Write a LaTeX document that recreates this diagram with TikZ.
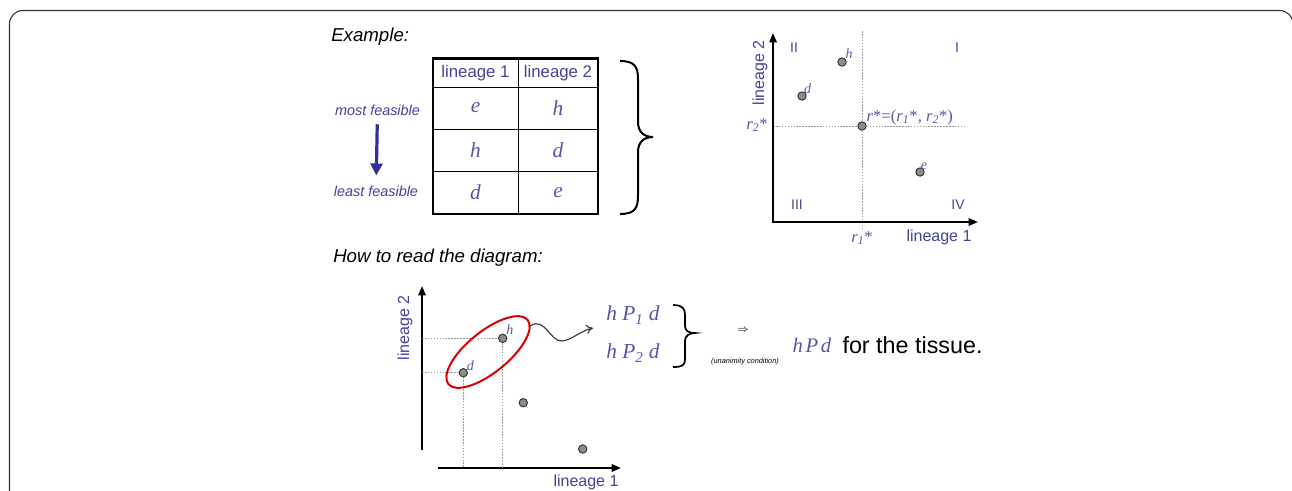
\documentclass[tikz,border=0pt]{standalone}
\usepackage{fontspec}
\setmainfont{Liberation Sans}
\newfontfamily\tms{Liberation Serif}
\usetikzlibrary{positioning,arrows.meta}

\definecolor{labblue}{RGB}{66,66,156}
\definecolor{varblue}{RGB}{84,84,172}
\definecolor{arrblue}{RGB}{48,48,150}

\begin{document}
\begin{tikzpicture}[x=0.75pt,y=-0.75pt,
  pt/.style={draw=black!80, fill=black!45, circle, inner sep=0pt, minimum size=6.3pt, line width=0.7pt},
  axes/.style={line width=1.5pt, line join=miter, {Triangle[length=7pt,width=5.5pt]}-{Triangle[length=7pt,width=5.5pt]}},
  guide/.style={black!40, line width=0.45pt, dash pattern=on 1.2pt off 1pt},
  lab/.style={text=labblue, font=\fontsize{12}{14}\selectfont, inner sep=1pt},
  numeral/.style={text=labblue, font=\fontsize{10.5}{12}\selectfont, inner sep=1pt},
  cell/.style={text=varblue, font=\fontsize{16}{17}\selectfont\tms\itshape, inner sep=1pt},
  vsm/.style={text=varblue, font=\fontsize{10.5}{12}\selectfont\tms\itshape, inner sep=1pt},
  vbig/.style={text=varblue, font=\fontsize{16}{18}\selectfont\tms\itshape, inner sep=1pt},
  head/.style={font=\fontsize{14}{16}\selectfont\itshape, anchor=west, inner sep=0pt},
  feas/.style={text=labblue, font=\fontsize{10.8}{12}\selectfont\itshape, inner sep=1pt}]

\useasboundingbox (0,0) rectangle (1292,490);
\clip (0,0) rectangle (1292,490);
\draw[black!80, line width=0.8pt, rounded corners=10] (9.5,520) -- (9.5,10.5) -- (1293,10.5) -- (1293,520);

% example table
\node[head] (ex) at (331,37) {Example:};

\draw[line width=0.6pt] (433,87) -- (598,87);
\draw[line width=0.6pt] (433,129) -- (598,129);
\draw[line width=0.6pt] (433,171.5) -- (598,171.5);
\draw[line width=0.6pt] (518,58.5) -- (518,214);
\draw[line width=1.6pt] (433,58.5) rectangle (598,214);

\node[lab, font=\fontsize{12.6}{14}\selectfont] (c11) at (475.5,72.7) {lineage 1};
\node[lab, font=\fontsize{12.6}{14}\selectfont] (c12) at (558,72.7) {lineage 2};
\node[cell] (c21) at (475.5,108) {e};
\node[cell] (c22) at (558,108) {h};
\node[cell] (c31) at (475.5,150) {h};
\node[cell] (c32) at (558,150) {d};
\node[cell] (c41) at (475.5,192.7) {d};
\node[cell] (c42) at (558,192.7) {e};

\node[feas] (most) at (377.5,110.7) {most feasible};
\node[feas] (least) at (376,191.7) {least feasible};
\draw[arrblue, line width=2.4pt, -{Triangle[length=9pt,width=9pt]}, shorten <=5pt, shorten >=7pt] (most) -- (least);

\draw[line width=1.5pt] (620,61) .. controls (636,61) and (638,68) .. (638,80) -- (638,122)
  .. controls (638,132) and (644,137) .. (653,137) .. controls (644,137) and (638,142) .. (638,152)
  -- (638,195) .. controls (638,207) and (636,214) .. (620,214);

% quadrant plot
\def\x{773}
\def\y{222}
\coordinate (o1) at (\x + 0, \y + 0);
\coordinate (ytip1) at (\x + 0, \y + -189);
\coordinate (xtip1) at (\x + 205, \y + 0);
\coordinate (vtop) at (\x + 89, \y + -191);
\coordinate (vbot) at (\x + 89, \y + 7);
\coordinate (hleft) at (\x + 0, \y + -96);
\coordinate (hright) at (\x + 192, \y + -96);

\draw[guide] (vtop) -- (vbot);
\draw[guide] (hleft) -- (hright);
\draw[axes] (ytip1) -- (o1) -- (xtip1);

\node[pt] (ph) at (\x + 69, \y + -160) {};
\node[pt] (pd) at (\x + 29, \y + -126) {};
\node[pt] (pr) at (\x + 89, \y + -96) {};
\node[pt] (pe) at (\x + 147, \y + -50) {};
\node[vsm, above right=-1pt and -1pt of ph] (lh) {h};
\node[vsm, above right=-2pt and -2pt of pd] (ld) {d};
\node[vsm, above right=-2pt and -3pt of pe] (le) {e};
\node[vsm, anchor=west, font=\fontsize{12.5}{14}\selectfont\tms] (lr) at (\x + 92, \y + -105)
  {\textit{r}*=(\textit{r}\textsubscript{\textit{1}}*, \textit{r}\textsubscript{\textit{2}}*)};
\node[vsm, font=\fontsize{12.5}{14}\selectfont\tms] (r2) at (\x + -16, \y + -97) {\textit{r}\textsubscript{\textit{2}}*};
\node[vsm, font=\fontsize{12.5}{14}\selectfont\tms] (r1) at (\x + 89, \y + 16) {\textit{r}\textsubscript{\textit{1}}*};

\node[numeral] (q2) at (\x + 21, \y + -174) {II};
\node[numeral] (q1) at (\x + 184, \y + -174) {I};
\node[numeral] (q3) at (\x + 24, \y + -17) {III};
\node[numeral] (q4) at (\x + 185, \y + -17) {IV};

\node[lab, rotate=90] (ly1) at (\x + -13, \y + -149) {lineage 2};
\node[lab] (lx1) at (\x + 166, \y + 15) {lineage 1};

% reading the diagram
\node[head] (how) at (333,258) {How to read the diagram:};

\def\x{422}
\def\y{468}
\coordinate (ybot2) at (\x + 0, \y + -18);
\coordinate (ytip2) at (\x + 0, \y + -182);
\coordinate (xbeg2) at (\x + 16, \y + 0);
\coordinate (xtip2) at (\x + 199, \y + 0);
\draw[line width=1.5pt, -{Triangle[length=7pt,width=5.5pt]}] (ybot2) -- (ytip2);
\draw[line width=1.5pt, -{Triangle[length=7pt,width=5.5pt]}] (xbeg2) -- (xtip2);

\node[pt] (qd) at (\x + 41.3, \y + -95.3) {};
\node[pt] (qh) at (\x + 80.7, \y + -129.7) {};
\node[pt] (qa) at (\x + 101.3, \y + -65.3) {};
\node[pt] (qb) at (\x + 160.7, \y + -19) {};

\coordinate (dy) at (\x + 0, \y + -95.3);
\coordinate (hy) at (\x + 0, \y + -129.7);
\coordinate (dx) at (\x + 41.3, \y + 0);
\coordinate (hx) at (\x + 80.7, \y + 0);
\draw[guide] (dy) -- (qd);
\draw[guide] (hy) -- (qh);
\draw[guide] (qd) -- (dx);
\draw[guide] (qh) -- (hx);

\node[vsm, above right=-1pt and -1pt of qh] (mh) {h};
\node[vsm, above right=-2pt and -1pt of qd] (md) {d};

\draw[red!85!black, line width=1.5pt, rotate around={39:(488,352)}] (488,352) ellipse [x radius=51, y radius=20.5];

\node[lab, rotate=90] (ly2) at (\x + -17, \y + -140) {lineage 2};
\node[lab] (lx2) at (\x + 164, \y + 14) {lineage 1};

\node[vbig] (p1) at (633,315) {h P\textsubscript{1} d};
\node[vbig] (p2) at (633,353.3) {h P\textsubscript{2} d};
\coordinate (wav) at (530,326);
\coordinate (wavend) at (593,328);
\draw[black!75, line width=0.9pt, -{To[length=5pt,width=7pt]}] (wav) .. controls (545,316) and (550,342) .. (562,341)
  .. controls (572,340) and (580,331) .. (wavend);

\draw[line width=1.3pt] (673,305) .. controls (683,305) and (685,309) .. (685,315) -- (685,326)
  .. controls (685,331) and (689,333) .. (695,333) .. controls (689,333) and (685,336) .. (685,341)
  -- (685,359) .. controls (685,365) and (683,367) .. (673,367);

\node[inner sep=0pt, font=\fontsize{8}{9}\selectfont] (imp) at (743,330) {$\Rightarrow$};
\node[inner sep=0pt, font=\fontsize{5.5}{6}\selectfont\itshape] (una) at (745,361.7) {(unanimity condition)};
\node[vbig, font=\fontsize{15.5}{18}\selectfont\tms\itshape] (hpd) at (812,345) {h\kern2pt P\kern2pt d};
\node[inner sep=0pt, font=\fontsize{17.5}{20}\selectfont, right=7pt of hpd] (tis) {for the tissue.};

\end{tikzpicture}
\end{document}
